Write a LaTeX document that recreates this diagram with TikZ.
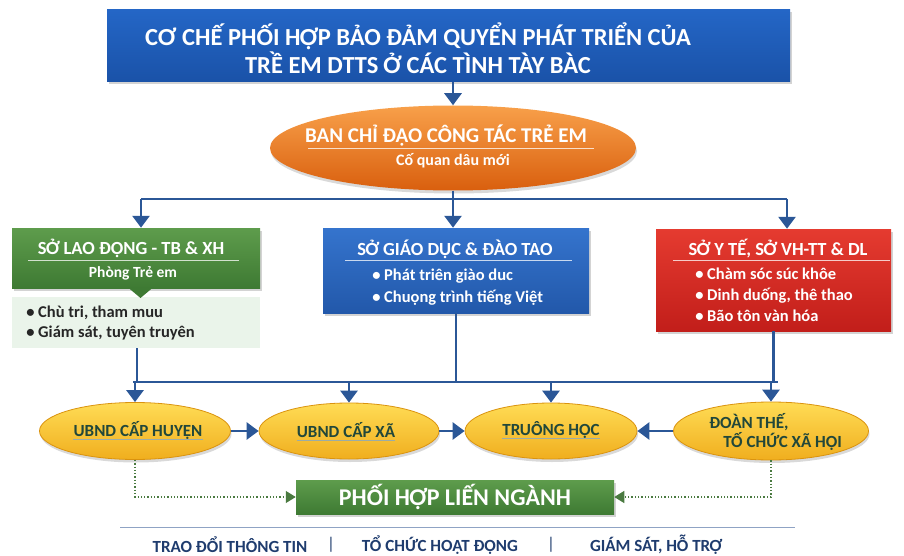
\documentclass[tikz,border=0pt]{standalone}
\usepackage{fontspec}
\setmainfont{Carlito}
\usetikzlibrary{arrows.meta,shapes.geometric,shadows,positioning}

\definecolor{navy}{HTML}{2B5797}
\definecolor{hblueT}{HTML}{2466C6}
\definecolor{hblueB}{HTML}{1A52A8}
\definecolor{orngT}{HTML}{F8A04A}
\definecolor{orngB}{HTML}{D95F0E}
\definecolor{grnT}{HTML}{5E9C4C}
\definecolor{grnB}{HTML}{3E7A33}
\definecolor{paleG}{HTML}{EAF4EA}
\definecolor{bluT}{HTML}{3574CD}
\definecolor{bluB}{HTML}{2258AA}
\definecolor{redT}{HTML}{E53B30}
\definecolor{redB}{HTML}{C21E1A}
\definecolor{goldT}{HTML}{FFDC55}
\definecolor{goldB}{HTML}{F0AE1E}
\definecolor{goldR}{HTML}{DA930F}
\definecolor{ovtext}{HTML}{21473A}
\definecolor{dotgrn}{HTML}{4A7A40}
\definecolor{foottxt}{HTML}{1F3C6E}
\definecolor{footrule}{HTML}{8FA3C4}

\newcommand{\fsz}[2]{\fontsize{#1}{#2}\selectfont\bfseries}

\begin{document}
\begin{tikzpicture}[x=1pt, y=-1pt, line width=0.5pt,
  box/.style={rectangle, inner sep=0pt, drop shadow={opacity=0.35, shadow xshift=1.5pt, shadow yshift=-2.5pt}},
  oval/.style={ellipse, inner sep=0pt, drop shadow={opacity=0.3, shadow xshift=1pt, shadow yshift=-3pt}},
  gold/.style={oval, top color=goldT, bottom color=goldB, draw=goldR, line width=0.8pt},
  wtxt/.style={text=white, inner sep=0pt, align=left},
  otxt/.style={text=ovtext, inner sep=0pt, font=\fsz{17}{19}, align=left},
  ftxt/.style={text=foottxt, inner sep=0pt, font=\fsz{17}{19}},
  rule/.style={draw=white, line width=0.7pt, opacity=0.75},
  uline/.style={draw=ovtext!45, line width=0.7pt},
  bus/.style={draw=navy, line width=2.8pt},
  link/.style={bus, -{Triangle[width=17pt,length=12pt]}},
  dotlink/.style={draw=dotgrn, line width=1.3pt, dotted, -{Triangle[width=12pt,length=10pt]}}]

  \useasboundingbox (0,0) rectangle (904,556);

  % title
  \node[box, top color=hblueT, bottom color=hblueB, minimum width=683, minimum height=72] (title) at (448.5,46) {};
  \node[wtxt, align=center, font=\fsz{24.5}{28}] (titletxt) at (418,48) {CƠ CHẾ PHỐI HỢP BẢO ĐẢM QUYỂN PHÁT TRIỂN CỦA\\TRỀ EM DTTS Ở CÁC TÌNH TÀY BÀC};

  % steering board
  \node[oval, top color=orngT, bottom color=orngB, minimum width=366, minimum height=85] (ban) at (453,148) {};
  \node[wtxt, font=\fsz{21}{24}] (bantxt) at (446,136) {BAN CHỈ ĐẠO CÔNG TÁC TRẺ EM};
  \draw[rule] (308,148) -- (594,148);
  \node[wtxt, font=\fsz{16}{18}] (bansub) at (453,161) {Cố quan dâu mới};
  \draw[link] (ban.north |- title.south) -- (ban.north);

  % departments
  \node[rectangle, fill=paleG, minimum width=248, minimum height=51, inner sep=0pt] (labourlist) at (136,322.5) {};
  \node[box, top color=grnT, bottom color=grnB, minimum width=248, minimum height=60] (labour) at (136,258) {};
  \fill[grnB] (128,287.5) -- (153,287.5) -- (140.5,298) -- cycle;
  \node[wtxt, font=\fsz{18.5}{20}] (labourhd) at (131,248) {SỞ LAO ĐỘNG - TB \& XH};
  \draw[rule] (28,260) -- (239,260);
  \node[wtxt, font=\fsz{15.5}{17}] (laboursub) at (133,273) {Phòng Trẻ em};
  \node[anchor=west, inner sep=0pt, align=left, text=black!85, font=\fsz{16.5}{20}] (labourpts) at (26,323) {• Chù tri, tham muu\\• Giám sát, tuyên truyên};

  \node[box, top color=bluT, bottom color=bluB, minimum width=266, minimum height=85] (edu) at (456,270.5) {};
  \node[wtxt, font=\fsz{18.5}{20}] (eduhd) at (455,249) {SỞ GIÁO DỤC \& ĐÀO TAO};
  \draw[rule] (345,260) -- (572,260);
  \node[wtxt, anchor=west, font=\fsz{16.5}{22}] (edupts) at (372,287) {• Phát triên giào duc\\• Chuọng trình tiếng Việt};

  \node[box, top color=redT, bottom color=redB, minimum width=235, minimum height=102] (health) at (773.5,280) {};
  \node[wtxt, font=\fsz{18.5}{20}] (healthhd) at (778,249) {SỞ Y TẾ, SỞ VH-TT \& DL};
  \draw[rule] (673,260) -- (890,260);
  \node[wtxt, anchor=west, font=\fsz{16.5}{21}] (healthpts) at (695,295) {• Chàm sóc súc khôe\\• Dinh duống, thê thao\\• Bão tôn vàn hóa};

  \coordinate (topL) at (141,199);
  \coordinate (topR) at (787,199);
  \draw[bus] (ban.south) -- (ban.south |- topL);
  \draw[bus] (topL) -- (topR);
  \draw[link] (topL) -- (topL |- labour.north);
  \draw[link] (ban.south |- topL) -- (ban.south |- edu.north);
  \draw[link] (topR) -- (topR |- health.north);

  % local level
  \node[gold, minimum width=191, minimum height=57] (huyen) at (135,431) {};
  \node[gold, minimum width=180, minimum height=56] (xa) at (349,431) {};
  \node[gold, minimum width=172, minimum height=56] (school) at (551,431) {};
  \node[gold, minimum width=195, minimum height=58] (mass) at (771,431) {};
  \node[otxt] (huyentxt) at (138,430) {UBND CẤP HUYỆN};
  \node[otxt] (xatxt) at (346,430) {UBND CẤP XÃ};
  \node[otxt] (schooltxt) at (551,430) {TRUÔNG HỌC};
  \node[otxt, anchor=west] (masstxt) at (709,432) {ĐOÀN THẾ,\\\hspace*{14pt}TỐ CHỨC XÃ HỘI};
  \foreach \t in {huyentxt, xatxt, schooltxt}
    \draw[uline] ([yshift=-3pt]\t.base west) -- ([yshift=-3pt]\t.base east);

  \coordinate (lowL) at (137,382);
  \coordinate (lowR) at (774,382);
  \draw[bus] (lowL |- labourlist.south) -- (lowL);
  \draw[bus] (edu.south) -- (edu.south |- lowL);
  \draw[bus] (health.south) -- (health.south |- lowL);
  \draw[bus] ([xshift=-4pt]lowL) -- ([xshift=4pt]lowR);
  \foreach \n in {huyen, xa, school, mass}
    \draw[link] (\n.north |- lowL) -- (\n.north);

  \draw[link] (huyen) -- (xa);
  \draw[link] (xa) -- (school);
  \draw[link] (mass) -- (school);

  % coordination
  \node[box, top color=grnT, bottom color=grnB, minimum width=318, minimum height=34, text=white, font=\fsz{24}{25}] (phoi) at (455,497) {PHỐI HỢP LIẾN NGÀNH};
  \draw[dotlink] (huyen.south) |- (phoi.west);
  \draw[dotlink] (mass.south) |- (phoi.east);

  \draw[draw=footrule, line width=1pt] (120,527) -- (795,527);
  \node[ftxt] (info) at (230,545) {TRAO ĐỔI THÔNG TIN};
  \node[ftxt, font=\fontsize{17}{19}\selectfont] (sepA) at (331,545) {|};
  \node[ftxt] (act) at (440,545) {TỔ CHỨC HOẠT ĐỘNG};
  \node[ftxt, font=\fontsize{17}{19}\selectfont] (sepB) at (551,545) {|};
  \node[ftxt] (supp) at (656,545) {GIÁM SÁT, HỖ TRỢ};
\end{tikzpicture}
\end{document}
